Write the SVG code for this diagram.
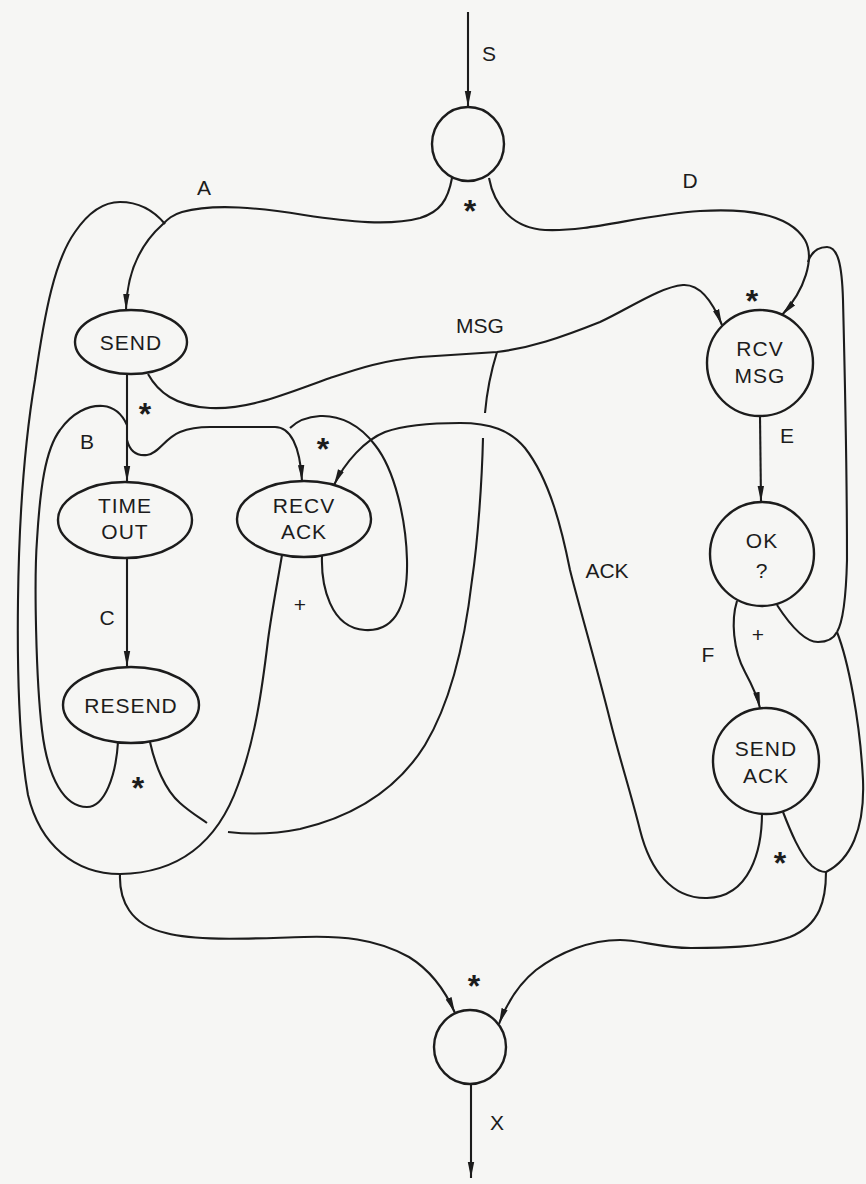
<svg xmlns="http://www.w3.org/2000/svg" width="866" height="1184" viewBox="0 0 866 1184">
<defs>
<marker id="ah" viewBox="0 0 16 8" refX="16" refY="4" markerWidth="16" markerHeight="8" markerUnits="userSpaceOnUse" orient="auto"><path d="M0,0.8 L16,4 L0,7.2 z" fill="#1c1c1c"/></marker>
</defs>
<style>
.n{fill:none;stroke:#1c1c1c;stroke-width:2.4}
.c{fill:none;stroke:#1c1c1c;stroke-width:2.1}
.t{font-family:"Liberation Sans",Arial,sans-serif;font-size:21px;fill:#1c1c1c;text-anchor:middle;letter-spacing:1px}
.l{font-family:"Liberation Sans",Arial,sans-serif;font-size:21px;fill:#1c1c1c;text-anchor:middle}
.s{font-family:"Liberation Sans",Arial,sans-serif;font-size:32px;font-weight:bold;fill:#1c1c1c;text-anchor:middle}
</style>
<rect width="866" height="1184" fill="#f6f6f4"/>
<g id="connectors">
<path class="c" d="M468,12 L468,107" marker-end="url(#ah)"/>
<path class="c" d="M452,178 C448,200 440,212 420,218 C390,226 350,222 304,215 C260,208 215,203 182,212 C172,215 168,219 163,224 C145,240 127,265 126,310" marker-end="url(#ah)"/>
<path class="c" d="M489,178 C494,205 512,228 545,230 C590,232 640,215 700,211 C750,208 790,215 805,240 C815,258 805,290 782,315" marker-end="url(#ah)"/>
<path class="c" d="M837,632 C843,622 846,600 847,560 C847,480 845,380 843,300 C842,265 838,247 827,247 C816,247 811,253 808,262"/>
<path class="c" d="M777,605 C790,625 805,642 818,642 C828,642 834,638 837,632"/>
<path class="c" d="M837,632 C848,660 860,720 863,780 C865,830 850,860 826,872"/>
<path class="c" d="M148,374 C158,392 175,406 210,408 C250,410 290,392 330,378 C360,368 380,361 420,357 L497,352 C530,348 560,338 600,322 C630,308 660,287 683,285 C700,284 712,300 722,325" marker-end="url(#ah)"/>
<path class="c" d="M497,352 C492,368 487,390 485,413"/>
<path class="c" d="M483,438 C482,480 478,540 472,580 C465,640 452,700 425,745 C400,785 360,815 300,829 C270,835 245,834 228,832"/>
<path class="c" d="M150,742 C155,765 165,790 180,803 C190,812 200,818 207,823"/>
<path class="c" d="M127,374 L127,482" marker-end="url(#ah)"/>
<path class="c" d="M127,558 L127,667" marker-end="url(#ah)"/>
<path class="c" d="M118,742 C116,775 105,807 87,807 C65,807 48,780 42,730 C36,680 34,580 37,540 C40,490 45,450 60,430 C72,413 88,405 103,406 C115,407 122,414 127,425"/>
<path class="c" d="M127,440 C130,452 138,456 147,455 C158,454 165,438 180,432 C190,428 200,427 210,427 L275,427 C290,427 300,445 302,481" marker-end="url(#ah)"/>
<path class="c" d="M322,556 C321,585 330,628 365,630 C398,632 408,600 407,560 C406,520 395,470 375,445 C360,425 340,415 320,416 C305,417 296,422 290,428"/>
<path class="c" d="M762,813 C762,850 750,897 707,898 C672,899 650,870 640,830 C630,790 620,760 610,720 C595,660 580,610 570,570 C562,530 550,480 525,448 C510,430 490,423 460,423 C430,423 405,425 385,432 C365,440 345,462 334,485" marker-end="url(#ah)"/>
<path class="c" d="M737,601 C731,620 733,650 745,672 C752,685 757,695 760,708" marker-end="url(#ah)"/>
<path class="c" d="M760,416 L761,502" marker-end="url(#ah)"/>
<path class="c" d="M282,555 C277,585 272,610 268,640 C262,690 255,740 238,785 C222,830 190,873 120,874 C75,874 40,845 28,795 C20,750 17,680 18,600 C19,520 25,440 35,380 C45,310 55,260 75,232 C88,213 104,202 120,202 C140,202 155,212 165,224"/>
<path class="c" d="M120,874 C119,900 130,925 166,933 C200,942 260,938 304,937 C340,936 375,938 409,957 C430,970 445,990 455,1013" marker-end="url(#ah)"/>
<path class="c" d="M826,872 C826,900 820,925 790,937 C760,948 720,948 691,948 C660,948 640,940 620,940 C590,940 560,952 536,970 C520,983 508,1000 499,1024" marker-end="url(#ah)"/>
<path class="c" d="M783,812 C790,830 800,855 812,866 C818,871 822,872 826,872"/>
<path class="c" d="M471,1084 L471,1178" marker-end="url(#ah)"/>
</g>
<g id="labels">
<text class="l" x="489" y="61">S</text>
<text class="l" x="204" y="195">A</text>
<text class="l" x="690" y="188">D</text>
<text class="s" x="470" y="222">*</text>
<text class="l" x="480" y="333">MSG</text>
<text class="s" x="752" y="312">*</text>
<text class="s" x="145" y="425">*</text>
<text class="l" x="87" y="449">B</text>
<text class="s" x="323" y="460">*</text>
<text class="l" x="787" y="443">E</text>
<text class="l" x="107" y="625">C</text>
<text class="l" x="300" y="612">+</text>
<text class="l" x="607" y="578">ACK</text>
<text class="l" x="758" y="642">+</text>
<text class="l" x="708" y="662">F</text>
<text class="s" x="138" y="799">*</text>
<text class="s" x="780" y="874">*</text>
<text class="s" x="474" y="997">*</text>
<text class="l" x="497" y="1130">X</text>
</g>
<g id="start"><ellipse class="n" cx="468" cy="144" rx="36" ry="37"/></g>
<g id="send"><ellipse class="n" cx="131" cy="342" rx="56" ry="32"/><text class="t" x="131" y="350">SEND</text></g>
<g id="timeout"><ellipse class="n" cx="125" cy="520" rx="67" ry="38"/><text class="t" x="125" y="513">TIME</text><text class="t" x="125" y="539">OUT</text></g>
<g id="recvack"><ellipse class="n" cx="304" cy="519" rx="67" ry="38"/><text class="t" x="304" y="513">RECV</text><text class="t" x="304" y="539">ACK</text></g>
<g id="resend"><ellipse class="n" cx="131" cy="705" rx="68" ry="38"/><text class="t" x="131" y="713">RESEND</text></g>
<g id="rcvmsg"><ellipse class="n" cx="760" cy="363" rx="53" ry="53"/><text class="t" x="760" y="356">RCV</text><text class="t" x="760" y="383">MSG</text></g>
<g id="ok"><ellipse class="n" cx="762" cy="554" rx="52" ry="52"/><text class="t" x="762" y="548">OK</text><text class="t" x="762" y="578">?</text></g>
<g id="sendack"><ellipse class="n" cx="766" cy="761" rx="53" ry="53"/><text class="t" x="766" y="756">SEND</text><text class="t" x="766" y="783">ACK</text></g>
<g id="end"><ellipse class="n" cx="470" cy="1047" rx="36" ry="37"/></g>
</svg>
